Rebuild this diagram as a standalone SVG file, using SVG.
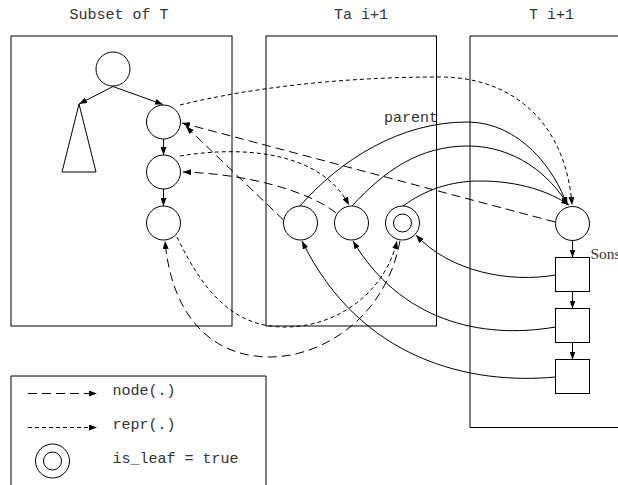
<svg xmlns="http://www.w3.org/2000/svg" width="618" height="485" viewBox="0 0 618 485">
  <style>
    .frame { fill: none; stroke: #000; stroke-width: 1; }
    .nd { fill: none; stroke: #000; stroke-width: 1; }
    .ln { fill: none; stroke: #000; stroke-width: 1; }
    .dash { stroke-dasharray: 9 5; }
    .dot { stroke-dasharray: 4 3; }
    .arr { marker-end: url(#ah); }
    .mono { font-family: "Liberation Mono", "Courier New", monospace; font-size: 15px; fill: #333; }
    .serif { font-family: "Liberation Serif", "Times New Roman", serif; font-size: 15.5px; fill: #333; }
  </style>
  <defs>
    <marker id="ah" viewBox="0 0 8 6" refX="8" refY="3" markerWidth="8" markerHeight="6" orient="auto" markerUnits="userSpaceOnUse">
      <path d="M0,0 L8,3 L0,6 z" fill="#000"/>
    </marker>
  </defs>
  <rect width="618" height="485" fill="#fff"/>

  <!-- containers -->
  <g id="subset-box">
    <rect class="frame" x="11" y="36" width="221" height="290"/>
    <text class="mono" x="69.5" y="18.5">Subset of T</text>
  </g>
  <g id="ta-box">
    <rect class="frame" x="266" y="36" width="170.5" height="290"/>
    <text class="mono" x="334" y="18.5">Ta i+1</text>
  </g>
  <g id="t-box">
    <path class="frame" d="M618,36 H470 V427.5 H618"/>
    <text class="mono" x="529" y="18.5">T i+1</text>
  </g>

  <!-- connectors -->
  <g id="connectors">
    <!-- tree edges in Subset of T -->
    <path class="ln arr" d="M113,86.5 L79,104"/>
    <path class="ln arr" d="M113,86.5 L163,104.5"/>
    <path class="ln arr" d="M163.5,139 V155"/>
    <path class="ln arr" d="M163.5,189 V206"/>
    <!-- sons list in T i+1 -->
    <path class="ln arr" d="M572.5,240.5 V257.5"/>
    <path class="ln arr" d="M572.5,291.5 V308.5"/>
    <path class="ln arr" d="M572.5,342.5 V359.5"/>

    <!-- repr(.) -->
    <path class="ln dot arr" d="M180,105 C250,88 340,77 440,77 C515,77 566,125 572,205"/>
    <path class="ln dot arr" d="M180,156 C240,146 320,150 349,205"/>
    <path class="ln dot arr" d="M177,237 C205,295 235,327 285,327 C338,327 385,292 397,241"/>

    <!-- node(.) -->
    <path class="ln dash arr" d="M555,222 L182,123"/>
    <path class="ln dash arr" d="M283.5,220 L186,126.5"/>
    <path class="ln dash arr" d="M336,213 C310,192 250,174 183,172"/>
    <path class="ln dash arr" d="M400,241 C385,320 320,357 270,357 C215,357 172,320 165,241"/>

    <!-- parent -->
    <path class="ln arr" d="M300,206 C340,160 400,122 467,122 C520,122 555,170 567,205"/>
    <path class="ln arr" d="M352,206 C385,170 420,146 468,146 C515,146 550,175 568,205"/>
    <path class="ln arr" d="M403,206 C425,190 450,181 480,181 C520,181 550,192 569,205"/>
    <text class="mono" x="384" y="122">parent</text>

    <!-- sons back to Ta i+1 -->
    <path class="ln arr" d="M555.5,275 C510,283 450,272 416,235"/>
    <path class="ln arr" d="M555.5,327 C480,340 400,320 353,241"/>
    <path class="ln arr" d="M555.5,377 C470,385 360,360 302,241"/>
  </g>

  <!-- nodes of Subset of T -->
  <g id="s-root"><circle class="nd" cx="113" cy="69" r="17"/></g>
  <g id="s-subtree"><path class="nd" d="M79,104 L96,172 H62 Z"/></g>
  <g id="s-n1"><circle class="nd" cx="163.5" cy="122" r="17"/></g>
  <g id="s-n2"><circle class="nd" cx="163.5" cy="172" r="17"/></g>
  <g id="s-n3"><circle class="nd" cx="163.5" cy="223" r="17"/></g>

  <!-- nodes of Ta i+1 -->
  <g id="ta-n1"><circle class="nd" cx="300.5" cy="223" r="17"/></g>
  <g id="ta-n2"><circle class="nd" cx="351.5" cy="223" r="17"/></g>
  <g id="ta-leaf">
    <circle class="nd" cx="402.5" cy="223" r="17"/>
    <circle class="nd" cx="402.5" cy="223" r="9"/>
  </g>

  <!-- nodes of T i+1 -->
  <g id="t-node">
    <circle class="nd" cx="572.5" cy="223.5" r="17"/>
    <text class="serif" x="590.5" y="258.5">Sons</text>
  </g>
  <g id="t-son1"><rect class="nd" x="555.5" y="257.5" width="34" height="34"/></g>
  <g id="t-son2"><rect class="nd" x="555.5" y="308.5" width="34" height="34"/></g>
  <g id="t-son3"><rect class="nd" x="555.5" y="359.5" width="34" height="34"/></g>

  <!-- legend -->
  <g id="legend">
    <path class="frame" d="M11,485 V376 H266 V485"/>
    <path class="ln dash arr" d="M28,393.5 H97"/>
    <text class="mono" x="112.5" y="395">node(.)</text>
    <path class="ln dot arr" d="M28,427.5 H97"/>
    <text class="mono" x="112.5" y="429">repr(.)</text>
    <circle class="nd" cx="52.5" cy="461" r="17"/>
    <circle class="nd" cx="52.5" cy="461" r="9"/>
    <text class="mono" x="112.5" y="462.5">is_leaf = true</text>
  </g>
</svg>
